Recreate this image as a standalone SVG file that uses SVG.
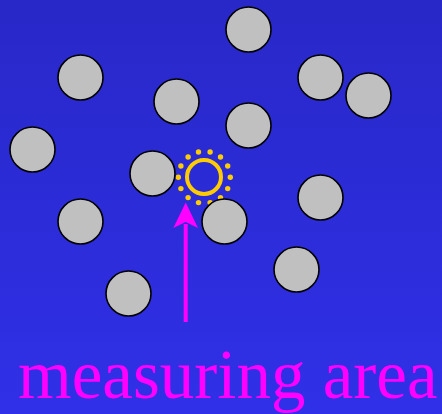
<svg xmlns="http://www.w3.org/2000/svg" width="442" height="414" viewBox="0 0 442 414">
<defs>
<linearGradient id="bg" x1="0" y1="0" x2="0" y2="1">
<stop offset="0" stop-color="#2828C8"/>
<stop offset="1" stop-color="#3030E8"/>
</linearGradient>
<style>
.p{fill:#C0C0C0;stroke:#000;stroke-width:1.6}
.d{fill:#FFCC00}
</style>
</defs>
<rect width="442" height="414" fill="url(#bg)"/>
<g id="measuring-spot">
<circle cx="204" cy="177" r="17" fill="none" stroke="#FFCC00" stroke-width="4"/>
<g class="d">
<circle cx="210.1" cy="152" r="2.7"/>
<circle cx="220.5" cy="157" r="2.7"/>
<circle cx="227.7" cy="166" r="2.7"/>
<circle cx="230.3" cy="177.3" r="2.7"/>
<circle cx="227.7" cy="188.6" r="2.7"/>
<circle cx="220.5" cy="197.6" r="2.7"/>
<circle cx="210.1" cy="202.6" r="2.7"/>
<circle cx="198.5" cy="202.6" r="2.7"/>
<circle cx="188.1" cy="197.6" r="2.7"/>
<circle cx="180.9" cy="188.6" r="2.7"/>
<circle cx="178.3" cy="177.3" r="2.7"/>
<circle cx="180.9" cy="166" r="2.7"/>
<circle cx="188.1" cy="157" r="2.7"/>
<circle cx="198.5" cy="152" r="2.7"/>
</g>
</g>
<g id="particles">
<circle id="p1" class="p" cx="248.5" cy="29.5" r="22.5"/>
<circle id="p2" class="p" cx="80.5" cy="77.5" r="22.5"/>
<circle id="p3" class="p" cx="320.5" cy="77.5" r="22.5"/>
<circle id="p4" class="p" cx="368.5" cy="95.5" r="22.5"/>
<circle id="p5" class="p" cx="176.5" cy="101.5" r="22.5"/>
<circle id="p6" class="p" cx="248.5" cy="125.5" r="22.5"/>
<circle id="p7" class="p" cx="32.5" cy="149.5" r="22.5"/>
<circle id="p8" class="p" cx="152.5" cy="173.5" r="22.5"/>
<circle id="p9" class="p" cx="320.5" cy="197.5" r="22.5"/>
<circle id="p10" class="p" cx="80.5" cy="221.5" r="22.5"/>
<circle id="p11" class="p" cx="224.5" cy="221.5" r="22.5"/>
<circle id="p12" class="p" cx="296.5" cy="269.5" r="22.5"/>
<circle id="p13" class="p" cx="128.5" cy="293.5" r="22.5"/>
</g>
<g id="connectors">
<line x1="185.7" y1="322" x2="185.7" y2="224" stroke="#FF00FF" stroke-width="4"/>
<polygon points="185.7,202.5 173.3,228 185.7,222 198,228" fill="#FF00FF"/>
</g>
<g id="label">
<text x="18" y="398" font-family="'Liberation Serif', 'Times New Roman', serif" font-size="69" fill="#FF00FF">measuring area</text>
</g>
</svg>
